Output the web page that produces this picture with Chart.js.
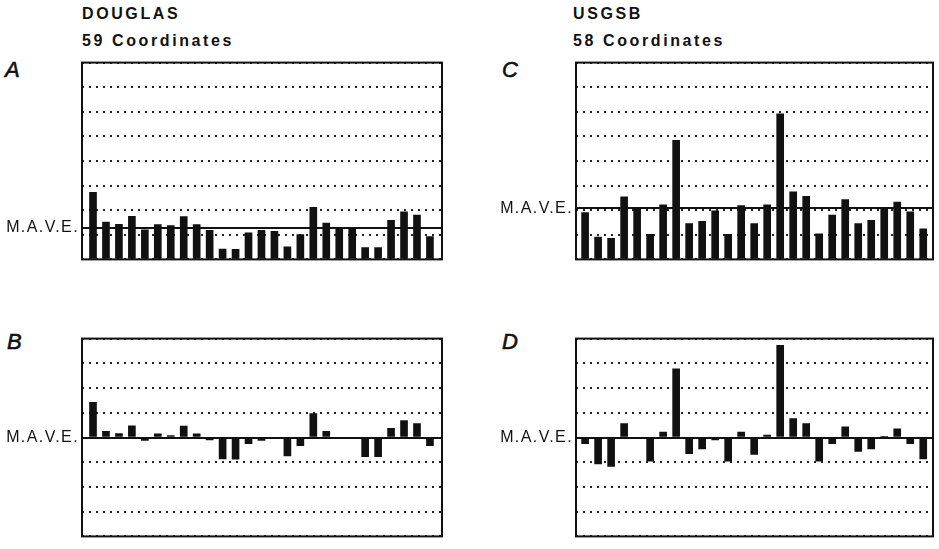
<!DOCTYPE html>
<html>
<head>
<meta charset="utf-8">
<script src="https://cdn.jsdelivr.net/npm/chart.js@4.4.0/dist/chart.umd.min.js"></script>
<style>
body { margin: 0; background: #fff; }
#page { position: relative; width: 939px; height: 549px; overflow: hidden; background: #fff;
	font-family: 'Liberation Sans', Arial, sans-serif; color: #111; }
#page canvas { position: absolute; }
.head { position: absolute; font-size: 16px; font-weight: bold; letter-spacing: 2.6px; line-height: 1; white-space: nowrap; }
.letter { position: absolute; font-size: 22px; font-style: italic; line-height: 1; -webkit-text-stroke: 0.6px #111; }
</style>
</head>
<body>
<div id="page">
	<div class="head" style="left:82px;top:6px">DOUGLAS</div>
	<div class="head" style="left:82px;top:33px">59 Coordinates</div>
	<div class="head" style="left:573px;top:6px">USGSB</div>
	<div class="head" style="left:573px;top:33px">58 Coordinates</div>

	<div class="letter" style="left:5px;top:59px">A</div>
	<div class="letter" style="left:7px;top:331px">B</div>
	<div class="letter" style="left:502px;top:59px">C</div>
	<div class="letter" style="left:502px;top:331px">D</div>

	<canvas id="chartA" width="446" height="222" style="left:0;top:50px"></canvas>
	<canvas id="chartB" width="446" height="223" style="left:0;top:326px"></canvas>
	<canvas id="chartC" width="469" height="222" style="left:470px;top:50px"></canvas>
	<canvas id="chartD" width="469" height="223" style="left:470px;top:326px"></canvas>
</div>

<script>
// Bar positions (one per coordinate group)
const positions = [1, 2, 3, 4, 5, 6, 7, 8, 9, 10, 11, 12, 13, 14, 15, 16, 17, 18, 19, 20, 21, 22, 23, 24, 25, 26, 27];

// A - DOUGLAS absolute errors
const douglasErrors = [2.73, 1.52, 1.43, 1.75, 1.2, 1.42, 1.37, 1.74, 1.42, 1.18, 0.42, 0.41, 1.08, 1.18,
	1.14, 0.51, 1.01, 2.12, 1.48, 1.27, 1.23, 0.48, 0.48, 1.59, 1.93, 1.8, 0.93];
// B - DOUGLAS deviation from M.A.V.E.
const douglasDeviations = [1.42, 0.25, 0.16, 0.47, -0.12, 0.15, 0.08, 0.46, 0.15, -0.1, -0.87, -0.88, -0.25, -0.12,
	-0.05, -0.74, -0.33, 0.97, 0.25, -0.03, -0.02, -0.78, -0.78, 0.37, 0.68, 0.56, -0.33];
// C - USGSB absolute errors
const usgsbErrors = [1.9, 0.91, 0.86, 2.54, 2.07, 1.02, 2.22, 4.84, 1.46, 1.55, 1.97, 1.02, 2.19, 1.46,
	2.22, 5.92, 2.75, 2.56, 1.04, 1.8, 2.43, 1.46, 1.59, 2.12, 2.33, 1.93, 1.24];
// D - USGSB deviation from M.A.V.E.
const usgsbDeviations = [-0.25, -1.07, -1.17, 0.56, -0.02, -0.96, 0.22, 2.78, -0.65, -0.46, -0.1, -0.96, 0.22, -0.68,
	0.1, 3.73, 0.77, 0.56, -0.96, -0.25, 0.43, -0.56, -0.46, 0.03, 0.35, -0.25, -0.87];

const douglasMave = 1.29;
const usgsbMave = 2.07;

const ink = '#111';
const fontFamily = "'Liberation Sans', Arial, sans-serif";

// Box around each plot
const framePlugin = {
	id: 'frame',
	beforeDraw(chart) {
		chart.ctx.letterSpacing = '1.4px';
	},
	afterDatasetsDraw(chart) {
		const a = chart.chartArea;
		const ctx = chart.ctx;
		ctx.save();
		ctx.lineWidth = 2;
		ctx.strokeStyle = ink;
		ctx.strokeRect(a.left, a.top, a.right - a.left, a.bottom - a.top);
		ctx.restore();
	},
};

function makePanel(id, values, yMin, yMax, mave, xMin, xMax, leftWidth, pad) {
	const ctx = document.getElementById(id).getContext('2d');
	return new Chart(ctx, {
		type: 'bar',
		data: {
			datasets: [
				{
					data: positions.map((p, i) => ({ x: p, y: values[i] })),
					backgroundColor: ink,
					borderWidth: 0,
					barThickness: 7,
				},
			],
		},
		options: {
			responsive: false,
			animation: false,
			layout: { padding: pad },
			plugins: { legend: { display: false }, tooltip: { enabled: false } },
			scales: {
				x: {
					type: 'linear',
					min: xMin,
					max: xMax,
					offset: false,
					display: false,
					grid: { offset: false },
				},
				y: {
					position: 'left',
					min: yMin,
					max: yMax,
					ticks: { display: false, stepSize: 1 },
					grid: { color: '#222', lineWidth: 2, drawTicks: false },
					border: { display: false, dash: [2, 5] },
					afterFit: (s) => {
						s.width = 0;
					},
				},
				mave: {
					position: 'left',
					min: yMin,
					max: yMax,
					afterBuildTicks: (s) => {
						s.ticks = [{ value: mave }];
					},
					ticks: {
						callback: () => 'M.A.V.E.',
						color: ink,
						padding: 3,
						font: { family: fontFamily, size: 16 },
					},
					grid: { color: ink, lineWidth: 2, drawTicks: false },
					border: { display: false },
					afterFit: (s) => {
						s.width = leftWidth;
					},
				},
			},
		},
		plugins: [framePlugin],
	});
}

makePanel('chartA', douglasErrors, 0, 8, douglasMave, 0.15, 27.93, 82, { top: 6, bottom: 5, right: 4, left: 0 });
makePanel('chartB', douglasDeviations, -4, 4, 0, 0.15, 27.93, 82, { top: 6, bottom: 2, right: 4, left: 0 });
makePanel('chartC', usgsbErrors, 0, 8, usgsbMave, 0.3, 27.75, 106, { top: 6, bottom: 5, right: 6, left: 0 });
makePanel('chartD', usgsbDeviations, -4, 4, 0, 0.3, 27.75, 106, { top: 6, bottom: 2, right: 6, left: 0 });
</script>
</body>
</html>
